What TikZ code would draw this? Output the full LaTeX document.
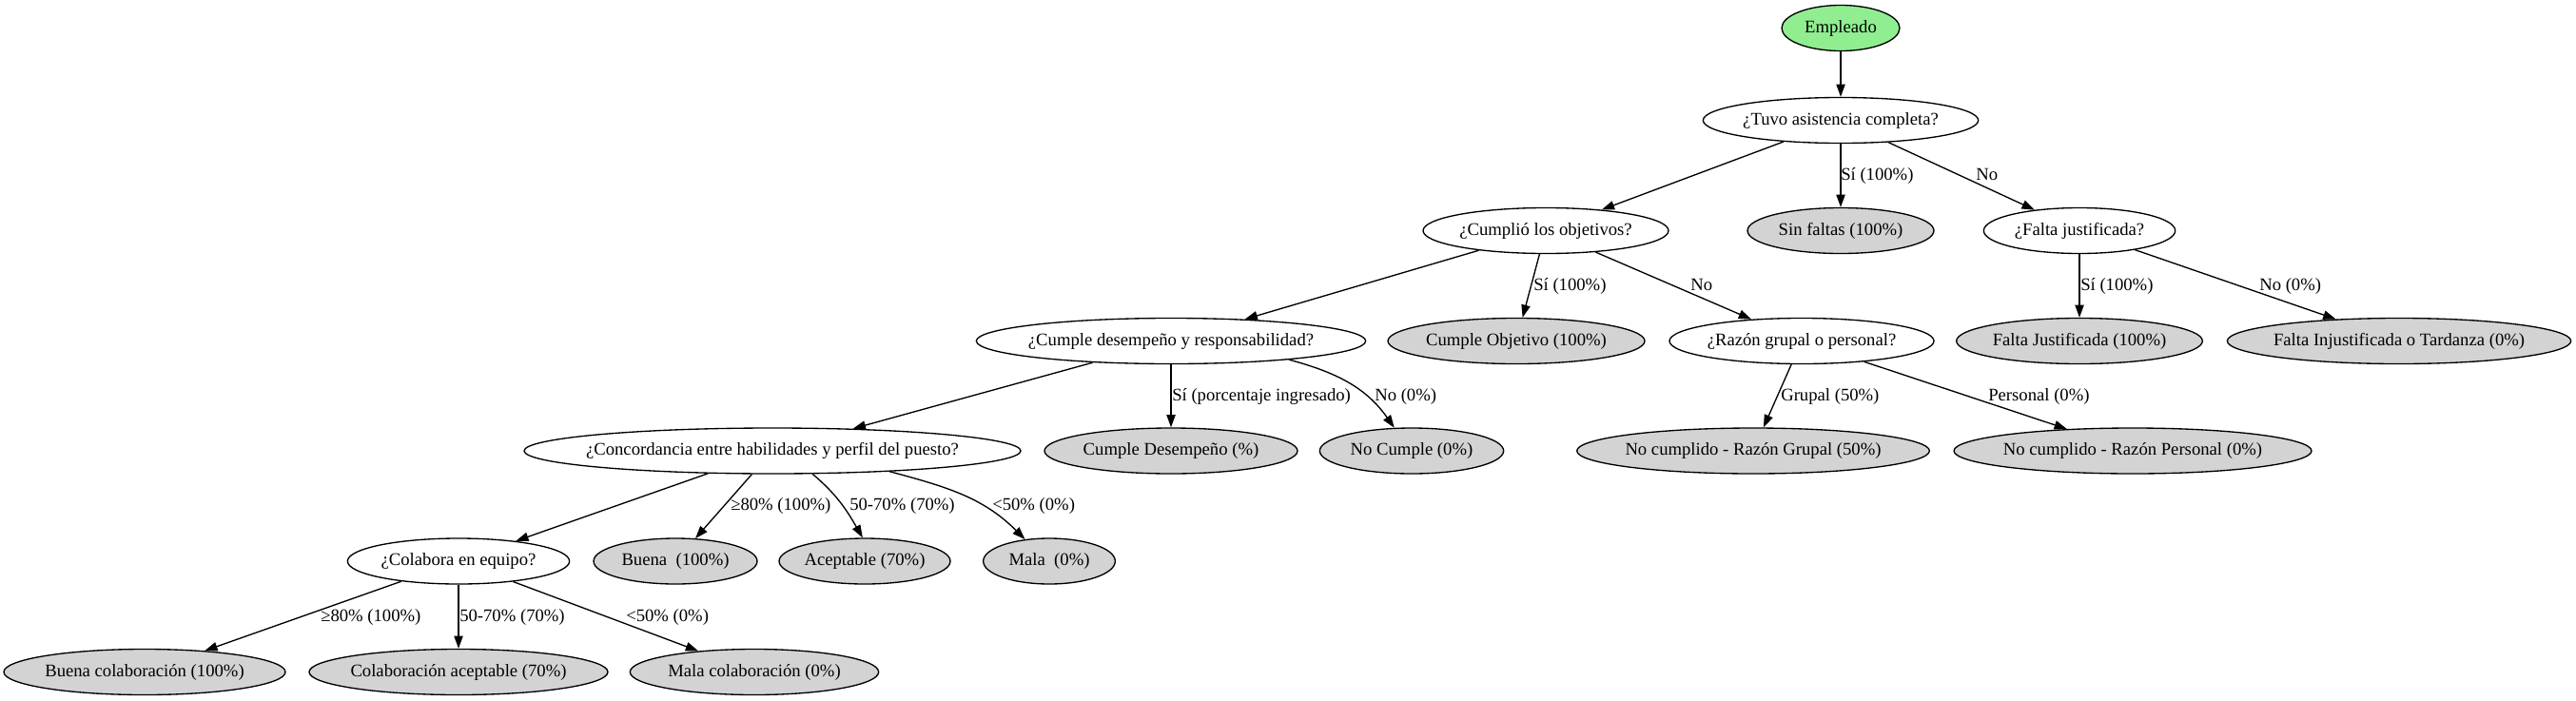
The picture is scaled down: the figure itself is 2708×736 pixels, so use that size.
\documentclass[tikz,border=0pt]{standalone}
\usepackage{fontspec}
\setmainfont{Liberation Serif}
\usetikzlibrary{shapes.geometric}
\usetikzlibrary{arrows.meta}
\definecolor{verdeclaro}{HTML}{90EE90}
\definecolor{grisclaro}{HTML}{D3D3D3}

\tikzset{
  nodo/.style={ellipse, draw, line width=1pt, inner xsep=-40pt, inner ysep=0pt,
    minimum height=36pt, text height=10pt, text depth=3pt,
    font=\fontsize{14}{16}\selectfont},
  raiz/.style={nodo, fill=verdeclaro},
  preg/.style={nodo, fill=white},
  hoja/.style={nodo, fill=grisclaro},
  flecha/.style={line width=1pt, -{Triangle[length=10pt,width=7pt]}},
  lbl/.style={inner sep=0pt, anchor=base west, font=\fontsize{14}{16}\selectfont}
}

\begin{document}
\begin{tikzpicture}[x=0.75pt,y=0.75pt]
\useasboundingbox (0,0) rectangle (2708,-736);

% nivel 0 y 1
\node[raiz, minimum width=93pt] (emp) at (1935,-29.5) {Empleado};
\node[preg, minimum width=217pt] (tuvo) at (1935,-126.5) {¿Tuvo asistencia completa?};

% nivel 2
\node[preg, minimum width=193.5pt] (cumplio) at (1625,-242.5) {¿Cumplió los objetivos?};
\node[hoja, minimum width=147pt] (sinfaltas) at (1935,-242.5) {Sin faltas (100\%)};
\node[preg, minimum width=151pt] (faltaj) at (2186,-242.5) {¿Falta justificada?};

% nivel 3
\node[preg, minimum width=307pt] (desemp) at (1231,-358.5) {¿Cumple desempeño y responsabilidad?};
\node[hoja, minimum width=202.5pt] (cumpleobj) at (1594,-358.5) {Cumple Objetivo (100\%)};
\node[preg, minimum width=208.5pt] (razon) at (1894,-358.5) {¿Razón grupal o personal?};
\node[hoja, minimum width=194pt] (fjust) at (2186,-358.5) {Falta Justificada (100\%)};
\node[hoja, minimum width=271pt] (finjust) at (2522,-358.5) {Falta Injustificada o Tardanza (0\%)};

% nivel 4
\node[preg, minimum width=391.5pt] (conc) at (812,-474) {¿Concordancia entre habilidades y perfil del puesto?};
\node[hoja, minimum width=199.5pt] (cumpledes) at (1231,-474) {Cumple Desempeño (\%)};
\node[hoja, minimum width=145pt] (nocumple) at (1484,-474) {No Cumple (0\%)};
\node[hoja, minimum width=278pt] (grupal) at (1843,-474) {No cumplido - Razón Grupal (50\%)};
\node[hoja, minimum width=282pt] (personal) at (2242,-474) {No cumplido - Razón Personal (0\%)};

% nivel 5
\node[preg, minimum width=175pt] (colab) at (482,-590) {¿Colabora en equipo?};
\node[hoja, minimum width=129pt] (buena) at (710,-590) {Buena~~(100\%)};
\node[hoja, minimum width=135pt] (acept) at (909,-590) {Aceptable (70\%)};
\node[hoja, minimum width=104pt] (mala) at (1103,-590) {Mala~~(0\%)};

% nivel 6
\node[hoja, minimum width=222pt] (buenacol) at (152,-706.5) {Buena colaboración (100\%)};
\node[hoja, minimum width=235.5pt] (colacept) at (482,-706.5) {Colaboración aceptable (70\%)};
\node[hoja, minimum width=196pt] (malacol) at (793,-706.5) {Mala colaboración (0\%)};

\draw[flecha] (emp) -- (tuvo);
\draw[flecha] (tuvo) -- (cumplio);
\draw[flecha] (tuvo) -- (sinfaltas);
\draw[flecha] (tuvo) -- (faltaj);
\draw[flecha] (cumplio) -- (desemp);
\draw[flecha] (cumplio) -- (cumpleobj);
\draw[flecha] (cumplio) -- (razon);
\draw[flecha] (faltaj) -- (fjust);
\draw[flecha] (faltaj) -- (finjust);
\draw[flecha] (desemp) -- (conc);
\draw[flecha] (desemp) -- (cumpledes);
\draw[flecha] (desemp.-9) to[out=-15,in=125] (nocumple.127);
\draw[flecha] (razon) -- (grupal);
\draw[flecha] (razon) -- (personal);
\draw[flecha] (conc) -- (colab);
\draw[flecha] (conc) -- (buena);
\draw[flecha] (conc.-30) to[out=-40,in=120] (acept.95);
\draw[flecha] (conc.-10) to[out=-15,in=135] (mala.138);
\draw[flecha] (colab) -- (buenacol);
\draw[flecha] (colab) -- (colacept);
\draw[flecha] (colab) -- (malacol);

% etiquetas
\node[lbl] (l1) at (1935,-189) {Sí (100\%)};
\node[lbl] (l2) at (2077,-189) {No};
\node[lbl] (l3) at (1612,-305) {Sí (100\%)};
\node[lbl] (l4) at (1777,-305) {No};
\node[lbl] (l5) at (2187,-305) {Sí (100\%)};
\node[lbl] (l6) at (2375,-305) {No (0\%)};
\node[lbl] (l7) at (1232,-421.5) {Sí (porcentaje ingresado)};
\node[lbl] (l8) at (1445,-421.5) {No (0\%)};
\node[lbl] (l9) at (1872,-421.5) {Grupal (50\%)};
\node[lbl] (l10) at (2090,-421.5) {Personal (0\%)};
\node[lbl] (l11) at (768,-536.5) {≥80\% (100\%)};
\node[lbl] (l12) at (893,-536.5) {50-70\% (70\%)};
\node[lbl] (l13) at (1043,-536.5) {<50\% (0\%)};
\node[lbl] (l14) at (337,-653) {≥80\% (100\%)};
\node[lbl] (l15) at (483,-653) {50-70\% (70\%)};
\node[lbl] (l16) at (658,-653) {<50\% (0\%)};
\end{tikzpicture}
\end{document}
